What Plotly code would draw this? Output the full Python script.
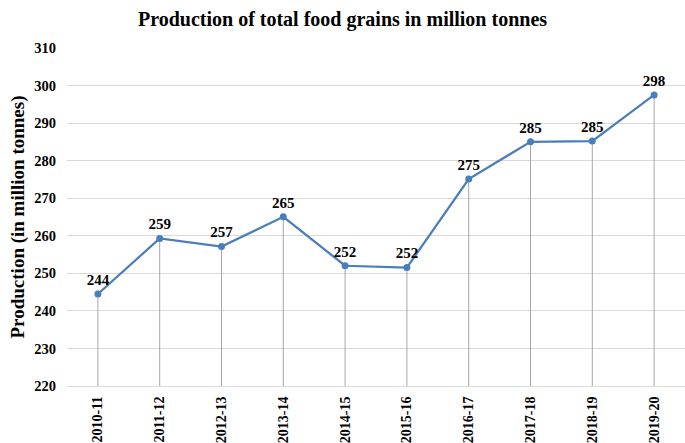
import plotly.graph_objects as go

# Total food grain production by agricultural year (million tonnes)
years = ["2010-11", "2011-12", "2012-13", "2013-14", "2014-15",
         "2015-16", "2016-17", "2017-18", "2018-19", "2019-20"]
production = [244.49, 259.29, 257.13, 265.04, 252.02,
              251.54, 275.11, 285.01, 285.21, 297.50]

y_min, y_max = 220, 310
serif = "Liberation Serif, Times New Roman, serif"
line_blue = "#4A7EBB"

fig = go.Figure()

fig.add_trace(go.Scatter(
    x=years,
    y=production,
    mode="lines+markers+text",
    line=dict(color=line_blue, width=2.25),
    marker=dict(color=line_blue, size=7),
    texttemplate="<b>%{y:.0f}</b>",
    textposition="top center",
    textfont=dict(family=serif, size=15, color="#000000"),
    # drop lines from each point down to the axis floor
    error_y=dict(
        type="data",
        symmetric=False,
        array=[0] * len(production),
        arrayminus=[v - y_min for v in production],
        color="#A6A6A6",
        thickness=1,
        width=0,
    ),
    cliponaxis=False,
    showlegend=False,
))

fig.update_layout(
    width=685,
    height=443,
    margin=dict(l=67, r=0, t=48, b=57),
    paper_bgcolor="white",
    plot_bgcolor="white",
    title=dict(
        text="<b>Production of total food grains in million tonnes</b>",
        x=0.5,
        xanchor="center",
        y=0.958,
        yanchor="middle",
        font=dict(family=serif, size=20, color="#000000"),
    ),
    xaxis=dict(
        type="category",
        range=[-0.5, len(years) - 0.5],
        automargin=False,
        tickangle=-90,
        tickfont=dict(family=serif, size=14, color="#000000"),
        tickprefix="<b>",
        ticksuffix="</b>",
        showgrid=False,
        showline=True,
        linecolor="#D9D9D9",
        linewidth=1,
        ticks="",
        ticklabelstandoff=4,
    ),
    yaxis=dict(
        range=[y_min, y_max],
        automargin=False,
        dtick=10,
        tick0=y_min,
        showgrid=True,
        gridcolor="#D9D9D9",
        gridwidth=1,
        zeroline=False,
        showline=False,
        ticks="",
        tickfont=dict(family=serif, size=14.5, color="#000000"),
        tickprefix="<b>",
        ticksuffix="</b>",
        ticklabelstandoff=10,
        title=dict(
            text="<b>Production (in million tonnes)</b>",
            font=dict(family=serif, size=19, color="#000000"),
            standoff=4,
        ),
    ),
)

fig.write_html("out.html")
